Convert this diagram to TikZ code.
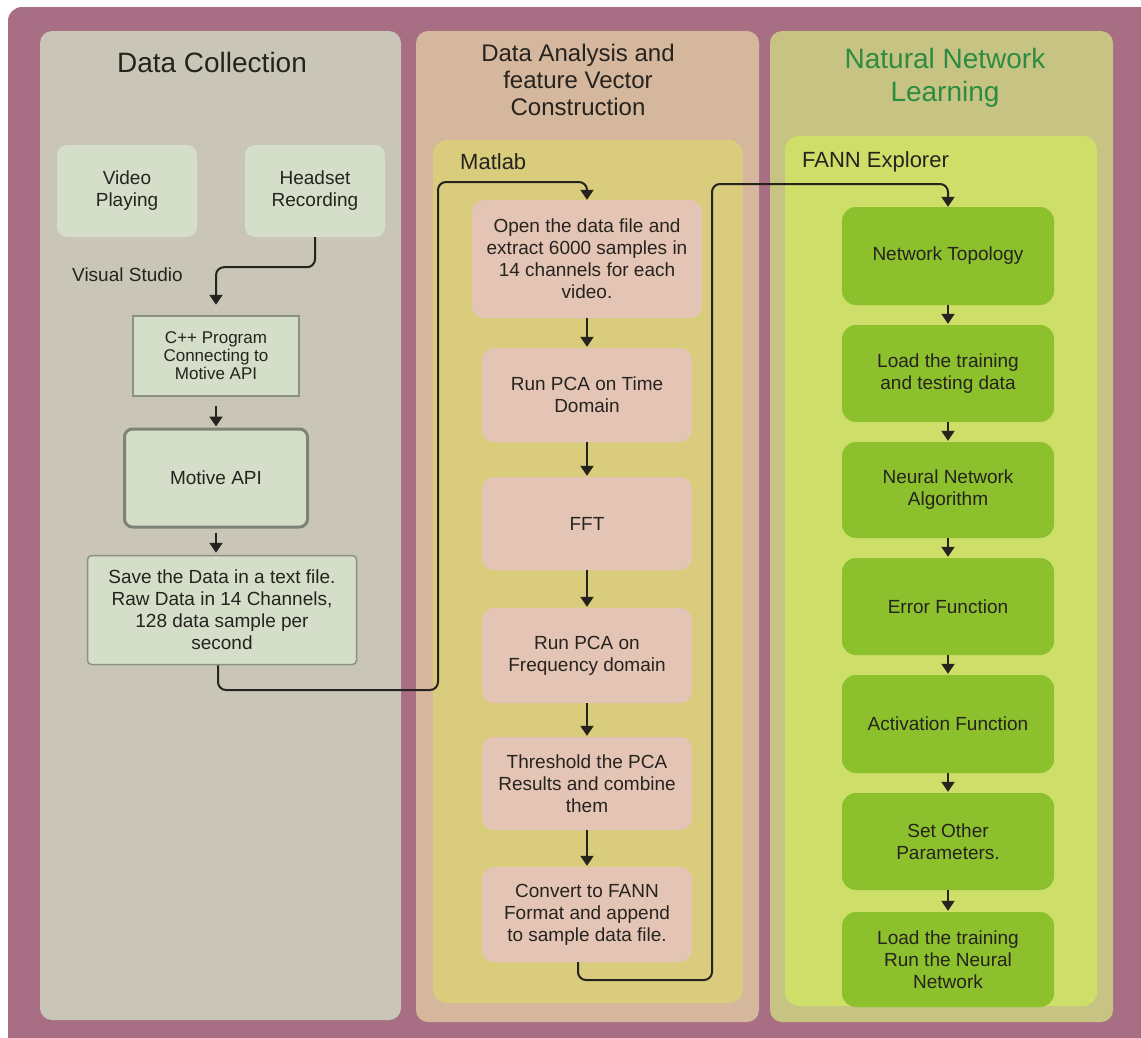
\documentclass[tikz,border=0pt]{standalone}
\usepackage{fontspec}
\setmainfont{Liberation Sans}
\usepackage{tikz}
\usetikzlibrary{arrows.meta}

\definecolor{framered}{RGB}{168,110,132}
\definecolor{colgray}{RGB}{201,198,183}
\definecolor{coltan}{RGB}{212,183,156}
\definecolor{cololive}{RGB}{198,195,131}
\definecolor{matlabbg}{RGB}{217,204,125}
\definecolor{fannbg}{RGB}{205,222,105}
\definecolor{mint}{RGB}{212,222,200}
\definecolor{mintedge}{RGB}{140,146,130}
\definecolor{pinkbox}{RGB}{228,197,181}
\definecolor{leafgreen}{RGB}{140,192,45}
\definecolor{titlegreen}{RGB}{45,140,65}
\definecolor{ink}{RGB}{38,35,30}

\begin{document}
\begin{tikzpicture}[x=1pt,y=-1pt,
    every node/.style={text=ink},
    bodytext/.style={font=\fontsize{19}{22}\selectfont, align=center},
    coltitle/.style={font=\fontsize{28}{33}\selectfont, align=center},
    tooltitle/.style={font=\fontsize{22}{26}\selectfont, anchor=west, inner sep=0pt},
    lightbox/.style={bodytext, fill=mint, rounded corners=10, minimum width=140, minimum height=92},
    cppbox/.style={bodytext, font=\fontsize{17}{18}\selectfont, fill=mint, draw=mintedge, line width=2.5,
        minimum width=166, minimum height=80},
    motivebox/.style={bodytext, fill=mint, draw=mintedge!90!black, line width=3, rounded corners=8,
        minimum width=183, minimum height=98},
    savebox/.style={bodytext, fill=mint, draw=mintedge, line width=1.5, rounded corners=4,
        minimum width=269, minimum height=109},
    stepbox/.style={bodytext, fill=pinkbox, rounded corners=12, minimum width=210, minimum height=94},
    fannbox/.style={bodytext, fill=leafgreen, rounded corners=14, minimum width=212, minimum height=96},
    arr/.style={-{Triangle[width=13pt,length=10pt]}, draw=ink, line width=2},
    link/.style={arr, rounded corners=8}]

    \useasboundingbox (0,0) rectangle (1141,1037);
    \fill[white] (0,0) rectangle (1141,1037);

    \begin{scope}
        \clip (0,0) rectangle (1141,1037);
        \fill[framered, rounded corners=14] (8,7) rectangle (1170,1060);
    \end{scope}

    \fill[colgray, rounded corners=12] (40,31) rectangle (401,1020);
    \fill[coltan, rounded corners=12] (416,31) rectangle (759,1022);
    \fill[cololive, rounded corners=12] (770,31) rectangle (1113,1022);

    \fill[matlabbg, rounded corners=14] (433,140) rectangle (743,1003);
    \fill[fannbg, rounded corners=14] (785,136) rectangle (1097,1006);

    \node[coltitle] (titleA) at (212,62) {Data Collection};
    \node[coltitle, font=\fontsize{24}{27}\selectfont] (titleB) at (578,80)
        {Data Analysis and\\feature Vector\\Construction};
    \node[coltitle, text=titlegreen] (titleC) at (945,78) {Natural Network\\Learning};

    \node[tooltitle] (matlab) at (460,162) {Matlab};
    \node[tooltitle] (fann) at (802,162) {FANN Explorer};
    \node[tooltitle, font=\fontsize{19}{22}\selectfont] (vstudio) at (72,275) {Visual Studio};

    \node[lightbox] (video) at (127,191) {Video\\Playing};
    \node[lightbox] (headset) at (315,191) {Headset\\Recording};
    \node[cppbox] (cpp) at (216,356) {C++ Program\\Connecting to\\Motive API};
    \node[motivebox] (motive) at (216,478) {Motive API};
    \node[savebox] (save) at (222,610)
        {Save the Data in a text file.\\Raw Data in 14 Channels,\\128 data sample per\\second};

    \node[stepbox, minimum width=230, minimum height=118] (open) at (587,259)
        {Open the data file and\\extract 6000 samples in\\14 channels for each\\video.};
    \node[stepbox] (pcatime) at (587,395) {Run PCA on Time\\Domain};
    \node[stepbox, minimum height=93] (fft) at (587,523.5) {FFT};
    \node[stepbox, minimum height=95] (pcafreq) at (587,655.5) {Run PCA on\\Frequency domain};
    \node[stepbox, minimum height=93] (thresh) at (587,783.5) {Threshold the PCA\\Results and combine\\them};
    \node[stepbox, minimum height=95] (convert) at (587,914.5) {Convert to FANN\\Format and append\\to sample data file.};

    \node[fannbox, minimum height=98] (topo) at (948,256) {Network Topology};
    \node[fannbox, minimum height=97] (loaddata) at (948,373.5) {Load the training\\and testing data};
    \node[fannbox] (algo) at (948,490) {Neural Network\\Algorithm};
    \node[fannbox, minimum height=97] (errfun) at (948,606.5) {Error Function};
    \node[fannbox, minimum height=98] (actfun) at (948,724) {Activation Function};
    \node[fannbox, minimum height=97] (params) at (948,841.5) {Set Other\\Parameters.};
    \node[fannbox, minimum height=95] (runnet) at (948,959.5) {Load the training\\Run the Neural\\Network};

    \coordinate (bendA) at (438,690);
    \coordinate (bendB) at (438,182);
    \coordinate (bendC) at (712,980);
    \coordinate (bendD) at (712,184);

    \draw[link, shorten >=10pt] (headset.south) -- ++(0,30) -| (cpp.north);
    \draw[arr, shorten <=9pt, shorten >=1pt] (cpp) -- (motive);
    \draw[arr, shorten <=4pt, shorten >=2pt] (motive) -- (motive.south |- save.north);
    \draw[link] ([xshift=-4pt]save.south) |- (bendA) -- (bendB) -| (open.north);

    \foreach \a/\b in {open/pcatime, pcatime/fft, fft/pcafreq, pcafreq/thresh, thresh/convert}
        \draw[arr, shorten >=1pt] (\a) -- (\b);

    \draw[link] ([xshift=-9pt]convert.south) |- (bendC) -- (bendD) -| (topo.north);

    \foreach \a/\b in {topo/loaddata, loaddata/algo, algo/errfun, errfun/actfun, actfun/params, params/runnet}
        \draw[arr, shorten >=1pt] (\a) -- (\b);
\end{tikzpicture}
\end{document}
